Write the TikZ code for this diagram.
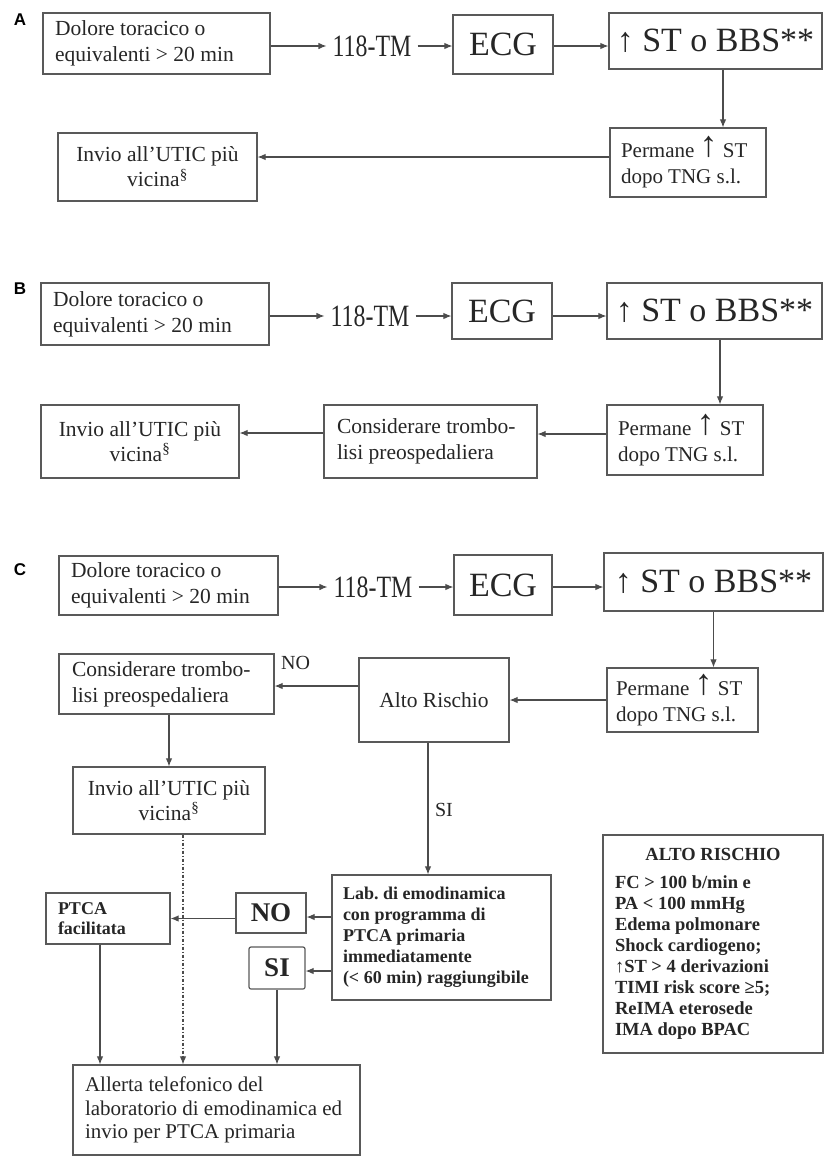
\documentclass[tikz,border=0pt]{standalone}
\usepackage{fontspec}
\usepackage{graphicx}
\setmainfont{Liberation Serif}
\setsansfont{Liberation Sans}
\usetikzlibrary{arrows.meta}
\frenchspacing
\newcommand{\upst}{\raisebox{1pt}{\fontsize{36}{26}\selectfont ↑}}
\tikzset{
  box/.style={draw=black!65, line width=1.2pt, inner xsep=12pt, inner ysep=2pt, text=black!85},
  txt/.style={font=\fontsize{21.5}{26}\selectfont},
  permtxt/.style={font=\fontsize{21}{26}\selectfont},
  big/.style={font=\fontsize{34}{40}\selectfont},
  bld/.style={font=\bfseries\fontsize{18}{21}\selectfont},
  lbl/.style={text=black!85, font=\fontsize{20}{24}\selectfont},
  tm/.style={text=black!85, inner xsep=6pt, font=\fontsize{31}{36}\selectfont},
  panel/.style={font=\sffamily\bfseries\fontsize{17}{20}\selectfont},
  arr/.style={-{Latex[length=8pt,width=6.5pt]}, line width=1.1pt, draw=black!70},
  dotln/.style={dash pattern=on 3pt off 2pt on 1pt off 2pt}
}
\begin{document}
\begin{tikzpicture}[x=1pt,y=-1pt]
  \useasboundingbox (0,0) rectangle (825,1157);
  % A
  \node[panel] (labA) at (20,20) {A};
  \node[box, txt, align=flush left, text width=203pt, minimum height=61pt] (dolA) at (156.5,43.5) {Dolore toracico o\\equivalenti > 20 min};
  \node[tm] (tmA) at (372,46) {\scalebox{0.77}[1]{118-TM}};
  \node[box, big, minimum width=100pt, minimum height=59pt] (ecgA) at (503,44.5) {ECG};
  \node[box, big, inner xsep=5pt, minimum width=213pt, minimum height=56pt] (stA) at (715.5,41) {↑ ST o BBS**};
  \node[box, permtxt, align=flush left, text width=134pt, inner xsep=11pt, minimum height=69pt] (permA) at (688,162.5) {Permane \upst\ ST\\dopo TNG s.l.};
  \node[box, align=center, minimum width=199pt, minimum height=68pt, font=\fontsize{21.5}{25}\selectfont] (invA) at (157.5,167) {Invio all’UTIC più\\vicina\textsuperscript{§}};
  \draw[arr] (dolA.east |- tmA.west) -- (tmA.west);
  \draw[arr] (tmA.east) -- (tmA.east -| ecgA.west);
  \draw[arr] (ecgA.east |- tmA.east) -- (stA.west |- tmA.east);
  \coordinate (dropA) at ([xshift=7.5pt]stA.south);
  \draw[arr] (dropA) -- (dropA |- permA.north);
  \coordinate (outA) at ([yshift=5.5pt]permA.west);
  \draw[arr] (outA) -- (outA -| invA.east);
  % B
  \node[panel] (labB) at (20,289) {B};
  \node[box, txt, align=flush left, text width=204pt, minimum height=62pt] (dolB) at (155,314) {Dolore toracico o\\equivalenti > 20 min};
  \node[tm] (tmB) at (370,316) {\scalebox{0.77}[1]{118-TM}};
  \node[box, big, minimum width=100pt, minimum height=56pt] (ecgB) at (502,311) {ECG};
  \node[box, big, inner xsep=5pt, minimum width=215pt, minimum height=56pt] (stB) at (714.5,311) {↑ ST o BBS**};
  \node[box, permtxt, align=flush left, text width=134pt, inner xsep=11pt, minimum height=70pt] (permB) at (685,440) {Permane \upst\ ST\\dopo TNG s.l.};
  \node[box, txt, align=flush left, text width=187pt, inner xsep=13pt, minimum height=73pt] (consB) at (430.5,441.5) {Considerare trombo-\\lisi preospedaliera};
  \node[box, align=center, minimum width=198pt, minimum height=73pt, font=\fontsize{21.5}{25}\selectfont] (invB) at (140,441.5) {Invio all’UTIC più\\vicina\textsuperscript{§}};
  \draw[arr] (dolB.east |- tmB.west) -- (tmB.west);
  \draw[arr] (tmB.east) -- (tmB.east -| ecgB.west);
  \draw[arr] (ecgB.east |- tmB.east) -- (stB.west |- tmB.east);
  \coordinate (dropB) at ([xshift=5.5pt]stB.south);
  \draw[arr] (dropB) -- (dropB |- permB.north);
  \coordinate (outB) at ([yshift=6pt]permB.west);
  \draw[arr] (outB) -- (outB -| consB.east);
  \coordinate (consOutB) at ([yshift=8.5pt]consB.west);
  \draw[arr] (consOutB) -- (consOutB -| invB.east);
  % C
  \node[panel] (labC) at (20,569.5) {C};
  \node[box, txt, align=flush left, text width=195pt, minimum height=59pt] (dolC) at (168.5,585.5) {Dolore toracico o\\equivalenti > 20 min};
  \node[tm] (tmC) at (373,587) {\scalebox{0.77}[1]{118-TM}};
  \node[box, big, minimum width=98pt, minimum height=60pt] (ecgC) at (503,585) {ECG};
  \node[box, big, inner xsep=5pt, minimum width=219pt, minimum height=58pt] (stC) at (713.5,582) {↑ ST o BBS**};
  \node[box, permtxt, align=flush left, text width=133pt, inner xsep=9pt, minimum height=64pt] (permC) at (682.5,700) {Permane \upst\ ST\\dopo TNG s.l.};
  \node[box, txt, minimum width=150pt, minimum height=84pt] (altoC) at (434,700) {Alto Rischio};
  \node[box, txt, align=flush left, text width=189pt, inner xsep=13pt, minimum height=60pt] (consC) at (166.5,684) {Considerare trombo-\\lisi preospedaliera};
  \node[box, align=center, minimum width=192pt, minimum height=67pt, font=\fontsize{21.5}{25}\selectfont] (invC) at (169,800.5) {Invio all’UTIC più\\vicina\textsuperscript{§}};
  \node[box, bld, align=flush left, text width=197pt, inner xsep=11pt, minimum height=125pt] (labCC) at (441.5,937.5) {Lab. di emodinamica\\con programma di\\PTCA primaria\\immediatamente\\(< 60 min) raggiungibile};
  \node[box, font=\bfseries\fontsize{27}{30}\selectfont, minimum width=70pt, minimum height=40pt] (noC) at (271,913) {NO};
  \node[box, font=\bfseries\fontsize{27}{30}\selectfont, rounded corners=2pt, minimum width=56pt, minimum height=42pt] (siC) at (277,968) {SI};
  \node[box, font=\bfseries\fontsize{18}{20}\selectfont, align=flush left, text width=100pt, minimum height=51pt] (ptcaC) at (108,918.5) {PTCA\\facilitata};
  \node[box, align=flush left, text width=263pt, font=\fontsize{21}{23.5}\selectfont, minimum height=90pt] (allC) at (216.5,1110) {Allerta telefonico del\\laboratorio di emodinamica ed\\invio per PTCA primaria};
  \node[box, align=flush left, text width=196pt, font=\bfseries\fontsize{18.5}{21}\selectfont, minimum height=218pt] (riskC) at (713,944) {{\centering ALTO RISCHIO\par}\vspace{7pt}FC > 100 b/min e\\PA < 100 mmHg\\Edema polmonare\\Shock cardiogeno;\\↑ST > 4 derivazioni\\TIMI risk score ≥5;\\ReIMA eterosede\\IMA dopo BPAC};
  \draw[arr] (dolC.east |- tmC.west) -- (tmC.west);
  \draw[arr] (tmC.east) -- (tmC.east -| ecgC.west);
  \draw[arr] (ecgC.east |- tmC.east) -- (stC.west |- tmC.east);
  \draw[arr] (stC.south) -- (stC.south |- permC.north);
  \draw[arr] (permC.west) -- (altoC.east);
  \coordinate (noOut) at ([yshift=14pt]altoC.west);
  \draw[arr] (noOut) -- node[lbl, pos=0.75, yshift=23pt] {NO} (noOut -| consC.east);
  \draw[arr] (consC.south -| invC.north) -- (invC.north);
  \coordinate (siOut) at ([xshift=-6pt]altoC.south);
  \draw[arr] (siOut) -- node[lbl, pos=0.51, xshift=16pt] {SI} (siOut |- labCC.north);
  \coordinate (labNo) at ([yshift=-4pt]noC.east);
  \draw[arr] (labNo -| labCC.west) -- (labNo);
  \coordinate (labSi) at ([yshift=-3pt]siC.east);
  \draw[arr] (labSi -| labCC.west) -- (labSi);
  \draw[arr] (noC.west |- ptcaC.east) -- (ptcaC.east);
  \coordinate (ptcaOut) at ([xshift=-8pt]ptcaC.south);
  \draw[arr] (ptcaOut) -- (ptcaOut |- allC.north);
  \coordinate (dotTop) at ([xshift=14pt]invC.south);
  \draw[arr, dotln] (dotTop) -- (dotTop |- allC.north);
  \draw[arr] (siC.south) -- (siC.south |- allC.north);
\end{tikzpicture}
\end{document}
